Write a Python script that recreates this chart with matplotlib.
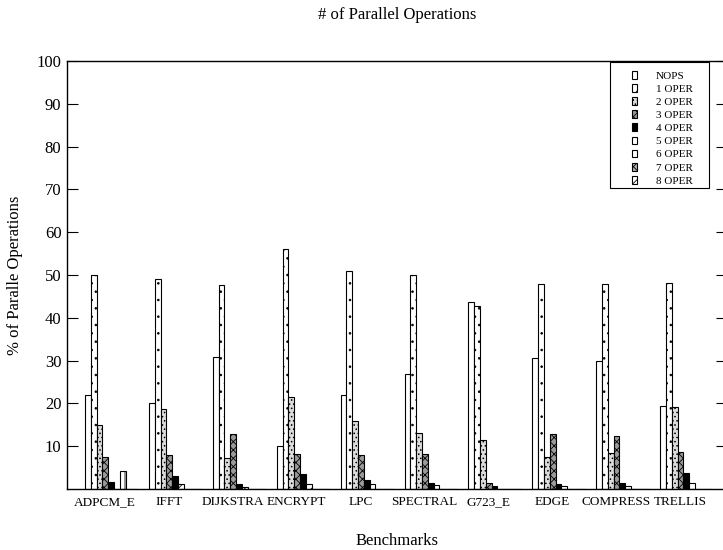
import matplotlib
matplotlib.use("Agg")
import matplotlib.pyplot as plt
import matplotlib.patches as mpatches
from matplotlib.legend_handler import HandlerPatch
import numpy as np

plt.rcParams["font.family"] = "serif"
plt.rcParams["font.serif"] = ["Liberation Serif", "DejaVu Serif"]
plt.rcParams["hatch.linewidth"] = 0.6

benchmarks = ["ADPCM_E", "IFFT", "DIJKSTRA", "ENCRYPT", "LPC",
              "SPECTRAL", "G723_E", "EDGE", "COMPRESS", "TRELLIS"]
series_names = ["NOPS", "1 OPER", "2 OPER", "3 OPER", "4 OPER",
                "5 OPER", "6 OPER", "7 OPER", "8 OPER"]

nops   = [22.0, 20.0, 30.8, 10.0, 22.0, 26.8, 43.7, 30.6, 29.8, 19.3]
oper_1 = [50.0, 49.1, 47.6, 56.0, 50.9, 50.0, 42.8, 47.8, 47.8, 48.1]
oper_2 = [14.9, 18.8, 7.3, 21.5, 16.0, 13.1, 11.4, 7.4, 8.4, 19.1]
oper_3 = [7.5, 7.9, 12.9, 8.2, 7.9, 8.2, 1.5, 12.9, 12.3, 8.7]
oper_4 = [1.6, 3.1, 1.2, 3.5, 2.2, 1.4, 0.7, 1.2, 1.4, 3.8]
oper_5 = [0.0, 1.2, 0.5, 1.1, 1.1, 1.0, 0.0, 0.6, 0.6, 1.3]
oper_6 = [4.2, 0.0, 0.0, 0.0, 0.0, 0.0, 0.0, 0.0, 0.0, 0.0]
oper_7 = [0.0, 0.0, 0.0, 0.0, 0.0, 0.0, 0.0, 0.0, 0.0, 0.0]
oper_8 = [0.0, 0.0, 0.0, 0.0, 0.0, 0.0, 0.0, 0.0, 0.0, 0.0]

series = [nops, oper_1, oper_2, oper_3, oper_4, oper_5, oper_6, oper_7, oper_8]

# gnuplot-like fill patterns, one per series
faces   = ["white", "white", "#dcdcdc", "#9a9a9a", "black", "white", "white", "#b0b0b0", "white"]
hatches = [None, "..", "....", "xxxx", None, "/", "|", "xx", "////"]

fig = plt.figure(figsize=(7.23, 5.5), dpi=100)
ax = fig.add_axes([67 / 723, 61 / 550, 660 / 723, 428 / 550])

x = np.arange(len(benchmarks))
w = 1 / 11
for j, (name, vals) in enumerate(zip(series_names, series)):
    ax.bar(x - 0.3125 + j * w, vals, width=w, align="edge",
           facecolor=faces[j], edgecolor="black", linewidth=0.8,
           hatch=hatches[j], label=name)

ax.set_xlim(-0.594, 9.734)
ax.set_ylim(0, 100)
ax.set_xticks(x)
ax.set_xticklabels(benchmarks, fontsize=9.5)
ax.set_yticks(range(10, 101, 10))
ax.tick_params(axis="y", direction="in", length=8, width=0.8, right=True,
               labelsize=12, pad=4)
ax.tick_params(axis="x", length=0, pad=5)
for s in ax.spines.values():
    s.set_linewidth(1.0)

ax.set_ylabel("% of Paralle Operations", fontsize=12, labelpad=10)
ax.set_xlabel("Benchmarks", fontsize=12)
ax.xaxis.set_label_coords(0.5, -0.103)
fig.text(397 / 723, 1 - 15 / 550, "# of Parallel Operations",
         ha="center", va="center", fontsize=12)


def small_box(legend, orig_handle, xdescent, ydescent, width, height, fontsize):
    return mpatches.Rectangle((-xdescent, -ydescent), width, height)


leg = ax.legend(loc="upper left", bbox_to_anchor=((632 - 67) / 660, (489 - 71) / 428),
                fontsize=8, handlelength=0.45, handleheight=0.7,
                handletextpad=1.7, borderpad=0, labelspacing=0.3,
                frameon=False, borderaxespad=0,
                handler_map={mpatches.Rectangle: HandlerPatch(patch_func=small_box)})

# square legend frame
frame = mpatches.Rectangle((610 / 723, 1 - 188 / 550), 99 / 723, 126 / 550,
                           transform=fig.transFigure, fill=False,
                           edgecolor="black", linewidth=0.8, zorder=10)
fig.patches.append(frame)

fig.savefig("out.png", dpi=100)
